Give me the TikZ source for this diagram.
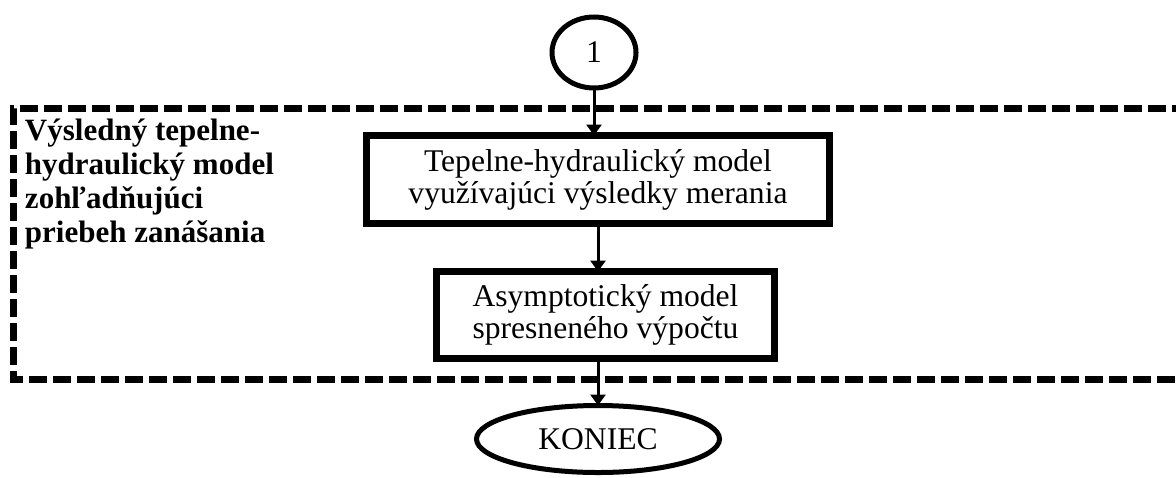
\documentclass[tikz,border=0pt]{standalone}
\usepackage{fontspec}
\setmainfont{Liberation Serif}
\usetikzlibrary{shapes.geometric,arrows.meta}

\begin{document}
\begin{tikzpicture}[x=0.5pt,y=-0.5pt,
  every node/.style={inner sep=0pt, outer sep=0pt, font=\fontsize{15.8}{16}\selectfont},
  blok/.style={draw, line width=3.5pt, rectangle, align=center},
  kruh/.style={draw, line width=2.5pt, ellipse},
  ramec/.style={line width=3.5pt, dash pattern=on 9pt off 3pt},
  sipka/.style={line width=1.5pt, -{Triangle[length=5.5pt,width=7.5pt]}}]
\useasboundingbox (0,0) rectangle (1176,477);

\node[kruh, minimum width=42pt, minimum height=35.5pt] (c1) at (594,52.5) {1};
\node[blok, minimum width=231.5pt, minimum height=44pt] (box1) at (598,179.5)
  {Tepelne-hydraulický model\\využívajúci výsledky merania};
\node[blok, minimum width=169pt, minimum height=43.5pt] (box2) at (605.5,315)
  {Asymptotický model\\spresneného výpočtu};
\node[kruh, minimum width=121.5pt, minimum height=33.5pt] (koniec) at (598,439) {KONIEC};

\node[anchor=north west, align=left, font=\fontsize{15.5}{17}\selectfont\bfseries] (popis) at (25,119)
  {Výsledný tepelne-\\hydraulický model\\zohľadňujúci\\priebeh zanášania};

\draw[ramec] (1190,108) -- (13,108) -- (13,379) -- (1190,379);

\draw[sipka] (c1.south) -- (c1.south |- box1.north);
\draw[sipka] (box1.south) -- (box1.south |- box2.north);
\draw[sipka] (koniec.north |- box2.south) -- (koniec.north);
\end{tikzpicture}
\end{document}
